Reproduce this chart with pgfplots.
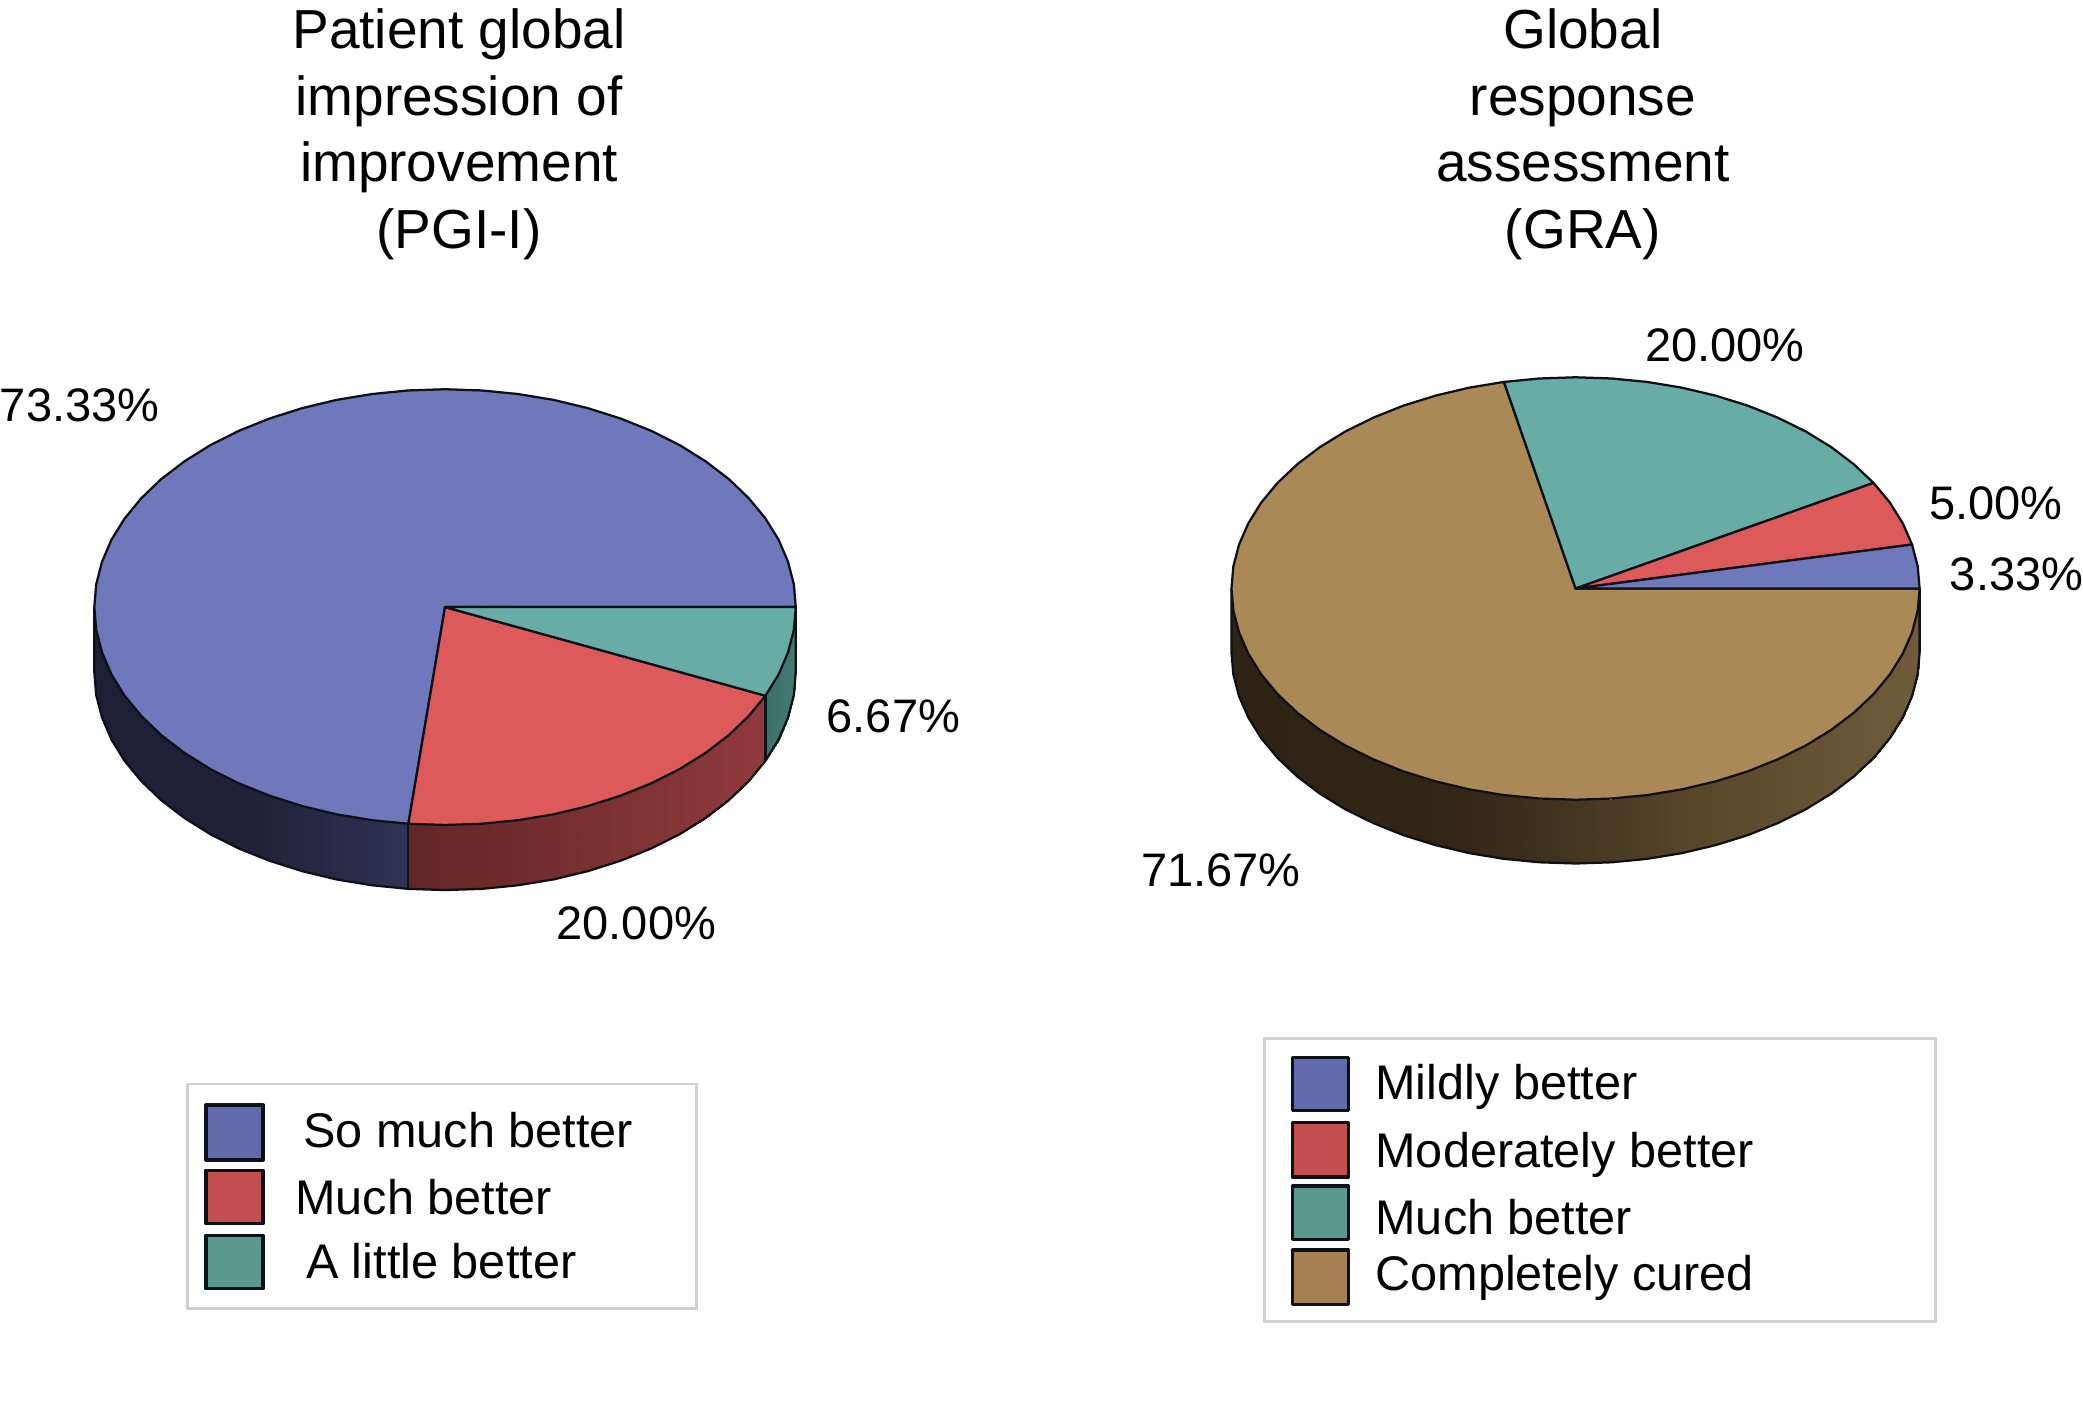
\documentclass[border=0pt]{standalone}
\usepackage{fontspec}
\setmainfont{Liberation Sans}
\usepackage{pgfplots}
\pgfplotsset{compat=1.18}

\definecolor{pieblue}{RGB}{110,120,186}
\definecolor{piered}{RGB}{220,90,90}
\definecolor{pieteal}{RGB}{104,173,165}
\definecolor{piebrown}{RGB}{171,137,87}
\definecolor{keyblue}{RGB}{97,106,170}
\definecolor{keyred}{RGB}{195,78,80}
\definecolor{keyteal}{RGB}{91,152,141}
\definecolor{keybrown}{RGB}{166,128,82}
\definecolor{rim}{RGB}{14,16,24}
\definecolor{keyframe}{RGB}{208,208,208}

\pgfplotsset{
  colormap={sideblue}{rgb255=(29,31,52) rgb255=(31,33,56) rgb255=(47,52,86)},
  colormap={sidered}{rgb255=(98,38,38) rgb255=(144,58,60)},
  colormap={sideteal}{rgb255=(60,112,104) rgb255=(66,122,114)},
  colormap={sidebrown}{rgb255=(46,35,20) rgb255=(50,38,22) rgb255=(88,70,42) rgb255=(112,92,58)},
  side/.style={surf,shader=interp,mesh/rows=2,point meta=x,point meta rel=per plot},
  edge/.style={draw=rim,line width=0.85pt,line join=round,no markers},
  top/.style={edge,fill=#1},
  key/.style={draw=rim,line width=1.4pt,line join=round,no markers,fill=#1},
  frame/.style={draw=keyframe,line width=1.1pt,no markers},
}
\newcommand{\titlefont}{\fontsize{20.7}{25}\selectfont}
\newcommand{\valfont}{\fontsize{17.7}{21}\selectfont}
\newcommand{\keyfont}{\fontsize{18.3}{22}\selectfont}

\begin{document}
\begin{tikzpicture}
\path[use as bounding box] (0,0) rectangle (784pt,533.3pt);
\begin{axis}[
    at={(0,0)},anchor=south west,
    scale only axis,
    width=784pt,height=533.3pt,
    xmin=0,xmax=1568,
    ymin=0,ymax=1066.6,
    y dir=reverse,
    hide axis,
    clip=false,
]

% left pie, walls: top edge then bottom edge
\addplot[side,colormap name=sideblue] coordinates {
(71,457)(72.4,474.1)(76.8,491.1)(83.9,507.7)(93.8,523.7)(106.4,539)(121.4,553.4)(138.8,566.7)(158.3,578.9)(179.8,589.7)(203,599)(227.6,606.8)(253.4,613)(280.1,617.4)(307.4,620.1)
(71,506)(72.4,523.1)(76.8,540.1)(83.9,556.7)(93.8,572.7)(106.4,588)(121.4,602.4)(138.8,615.7)(158.3,627.9)(179.8,638.7)(203,648)(227.6,655.8)(253.4,662)(280.1,666.4)(307.4,669.1)
};
\addplot[side,colormap name=sidered] coordinates {
(307.4,620.1)(335,621)(362.6,620.1)(389.9,617.4)(416.6,613)(442.4,606.8)(467,599)(490.2,589.7)(511.7,578.9)(531.2,566.7)(548.6,553.4)(563.6,539)(576.2,523.7)
(307.4,669.1)(335,670)(362.6,669.1)(389.9,666.4)(416.6,662)(442.4,655.8)(467,648)(490.2,638.7)(511.7,627.9)(531.2,615.7)(548.6,602.4)(563.6,588)(576.2,572.7)
};
\addplot[side,colormap name=sideteal] coordinates {
(576.2,523.7)(586.1,507.7)(593.2,491.1)(597.6,474.1)(599,457)
(576.2,572.7)(586.1,556.7)(593.2,540.1)(597.6,523.1)(599,506)
};
% left pie, wall outline
\addplot[edge] coordinates {
(71,457)(71,506)(72.4,523.1)(76.8,540.1)(83.9,556.7)(93.8,572.7)(106.4,588)(121.4,602.4)(138.8,615.7)(158.3,627.9)(179.8,638.7)(203,648)(227.6,655.8)(253.4,662)(280.1,666.4)(307.4,669.1)(335,670)(362.6,669.1)(389.9,666.4)(416.6,662)(442.4,655.8)(467,648)(490.2,638.7)(511.7,627.9)(531.2,615.7)(548.6,602.4)(563.6,588)(576.2,572.7)(586.1,556.7)(593.2,540.1)(597.6,523.1)(599,506)(599,457)
};
\addplot[edge] coordinates {(307.4,620.1)(307.4,669.1)};
\addplot[edge] coordinates {(576.2,523.7)(576.2,572.7)};

% left pie, 73.33 %
\addplot[top=pieblue] coordinates {
(335,457)(307.4,620.1)(280.1,617.4)(253.4,613)(227.6,606.8)(203,599)(179.8,589.7)(158.3,578.9)(138.8,566.7)(121.4,553.4)(106.4,539)(93.8,523.7)(83.9,507.7)(76.8,491.1)(72.4,474.1)(71,457)
(72.4,439.9)(76.8,422.9)(83.9,406.3)(93.8,390.3)(106.4,375)(121.4,360.6)(138.8,347.3)(158.3,335.1)(179.8,324.3)(203,315)(227.6,307.2)(253.4,301)(280.1,296.6)(307.4,293.9)(335,293)
(362.6,293.9)(389.9,296.6)(416.6,301)(442.4,307.2)(467,315)(490.2,324.3)(511.7,335.1)(531.2,347.3)(548.6,360.6)(563.6,375)(576.2,390.3)(586.1,406.3)(593.2,422.9)(597.6,439.9)(599,457)
} --cycle;
% left pie, 20.00 %
\addplot[top=piered] coordinates {
(335,457)(576.2,523.7)(563.6,539)(548.6,553.4)(531.2,566.7)(511.7,578.9)(490.2,589.7)(467,599)(442.4,606.8)(416.6,613)(389.9,617.4)(362.6,620.1)(335,621)(307.4,620.1)
} --cycle;
% left pie, 6.67 %
\addplot[top=pieteal] coordinates {
(335,457)(599,457)(597.6,474.1)(593.2,491.1)(586.1,507.7)(576.2,523.7)
} --cycle;

% right pie, wall
\addplot[side,colormap name=sidebrown] coordinates {
(927,443)(928.4,459.6)(932.7,476.1)(939.7,492.1)(949.4,507.7)(961.7,522.5)(976.5,536.5)(993.5,549.4)(1012.7,561.2)(1033.8,571.6)(1056.5,580.7)(1080.7,588.2)(1106,594.2)(1132.1,598.5)(1158.9,601.1)(1186,602)(1213.1,601.1)(1239.9,598.5)(1266,594.2)(1291.4,588.2)(1315.5,580.7)(1338.2,571.6)(1359.3,561.2)(1378.5,549.4)(1395.5,536.5)(1410.3,522.5)(1422.6,507.7)(1432.3,492.1)(1439.3,476.1)(1443.6,459.6)(1445,443)
(927,491)(928.4,507.6)(932.7,524.1)(939.7,540.1)(949.4,555.7)(961.7,570.5)(976.5,584.5)(993.5,597.4)(1012.7,609.2)(1033.8,619.6)(1056.5,628.7)(1080.7,636.2)(1106,642.2)(1132.1,646.5)(1158.9,649.1)(1186,650)(1213.1,649.1)(1239.9,646.5)(1266,642.2)(1291.4,636.2)(1315.5,628.7)(1338.2,619.6)(1359.3,609.2)(1378.5,597.4)(1395.5,584.5)(1410.3,570.5)(1422.6,555.7)(1432.3,540.1)(1439.3,524.1)(1443.6,507.6)(1445,491)
};
\addplot[edge] coordinates {
(927,443)(927,491)(928.4,507.6)(932.7,524.1)(939.7,540.1)(949.4,555.7)(961.7,570.5)(976.5,584.5)(993.5,597.4)(1012.7,609.2)(1033.8,619.6)(1056.5,628.7)(1080.7,636.2)(1106,642.2)(1132.1,646.5)(1158.9,649.1)(1186,650)(1213.1,649.1)(1239.9,646.5)(1266,642.2)(1291.4,636.2)(1315.5,628.7)(1338.2,619.6)(1359.3,609.2)(1378.5,597.4)(1395.5,584.5)(1410.3,570.5)(1422.6,555.7)(1432.3,540.1)(1439.3,524.1)(1443.6,507.6)(1445,491)(1445,443)
};

% right pie, 71.67 %
\addplot[top=piebrown] coordinates {
(1186,443)(1132.1,287.5)(1106,291.8)(1080.7,297.8)(1056.5,305.3)(1033.8,314.4)(1012.7,324.8)(993.5,336.6)(976.5,349.5)(961.7,363.5)(949.4,378.3)(939.7,393.9)(932.7,409.9)(928.4,426.4)(927,443)
(928.4,459.6)(932.7,476.1)(939.7,492.1)(949.4,507.7)(961.7,522.5)(976.5,536.5)(993.5,549.4)(1012.7,561.2)(1033.8,571.6)(1056.5,580.7)(1080.7,588.2)(1106,594.2)(1132.1,598.5)(1158.9,601.1)(1186,602)
(1213.1,601.1)(1239.9,598.5)(1266,594.2)(1291.4,588.2)(1315.5,580.7)(1338.2,571.6)(1359.3,561.2)(1378.5,549.4)(1395.5,536.5)(1410.3,522.5)(1422.6,507.7)(1432.3,492.1)(1439.3,476.1)(1443.6,459.6)(1445,443)
} --cycle;
% right pie, 20.00 %
\addplot[top=pieteal] coordinates {
(1186,443)(1410.3,363.5)(1395.5,349.5)(1378.5,336.6)(1359.3,324.8)(1338.2,314.4)(1315.5,305.3)(1291.4,297.8)(1266,291.8)(1239.9,287.5)(1213.1,284.9)(1186,284)(1158.9,284.9)(1132.1,287.5)
} --cycle;
% right pie, 5.00 %
\addplot[top=piered] coordinates {
(1186,443)(1439.3,409.9)(1432.3,393.9)(1422.6,378.3)(1410.3,363.5)
} --cycle;
% right pie, 3.33 %
\addplot[top=pieblue] coordinates {
(1186,443)(1445,443)(1443.6,426.4)(1439.3,409.9)
} --cycle;

% legend frames and swatches
\addplot[frame] coordinates {(141,816)(524,816)(524,985)(141,985)} --cycle;
\addplot[key=keyblue] coordinates {(155,832)(198,832)(198,873)(155,873)} --cycle;
\addplot[key=keyred] coordinates {(155,881)(198,881)(198,921)(155,921)} --cycle;
\addplot[key=keyteal] coordinates {(155,930)(198,930)(198,970)(155,970)} --cycle;

\addplot[frame] coordinates {(952,782)(1457,782)(1457,995)(952,995)} --cycle;
\addplot[key=keyblue] coordinates {(973,796)(1015,796)(1015,836)(973,836)} --cycle;
\addplot[key=keyred] coordinates {(973,845)(1015,845)(1015,886)(973,886)} --cycle;
\addplot[key=keyteal] coordinates {(973,893)(1015,893)(1015,933)(973,933)} --cycle;
\addplot[key=keybrown] coordinates {(973,941)(1015,941)(1015,982)(973,982)} --cycle;

% titles
\node[align=center,font=\titlefont,anchor=center] at (axis cs:345.5,101) {Patient global\\impression of\\improvement\\(PGI-I)};
\node[align=center,font=\titlefont,anchor=center] at (axis cs:1191.5,101) {Global\\response\\assessment\\(GRA)};

% value labels
\node[font=\valfont] at (axis cs:60,305) {73.33\%};
\node[font=\valfont] at (axis cs:672.5,539) {6.67\%};
\node[font=\valfont] at (axis cs:479,695) {20.00\%};
\node[font=\valfont] at (axis cs:1298.5,260) {20.00\%};
\node[font=\valfont] at (axis cs:1502.5,379) {5.00\%};
\node[font=\valfont] at (axis cs:1518,432) {3.33\%};
\node[font=\valfont] at (axis cs:919,655) {71.67\%};

% legend text
\node[font=\keyfont,anchor=west,inner sep=0pt] at (axis cs:228,851) {So much better};
\node[font=\keyfont,anchor=west,inner sep=0pt] at (axis cs:222,901) {Much better};
\node[font=\keyfont,anchor=west,inner sep=0pt] at (axis cs:230,949) {A little better};
\node[font=\keyfont,anchor=west,inner sep=0pt] at (axis cs:1035,818) {Mildly better};
\node[font=\keyfont,anchor=west,inner sep=0pt] at (axis cs:1035,869) {Moderately better};
\node[font=\keyfont,anchor=west,inner sep=0pt] at (axis cs:1035,916) {Much better};
\node[font=\keyfont,anchor=west,inner sep=0pt] at (axis cs:1035,962) {Completely cured};

\end{axis}
\end{tikzpicture}
\end{document}
